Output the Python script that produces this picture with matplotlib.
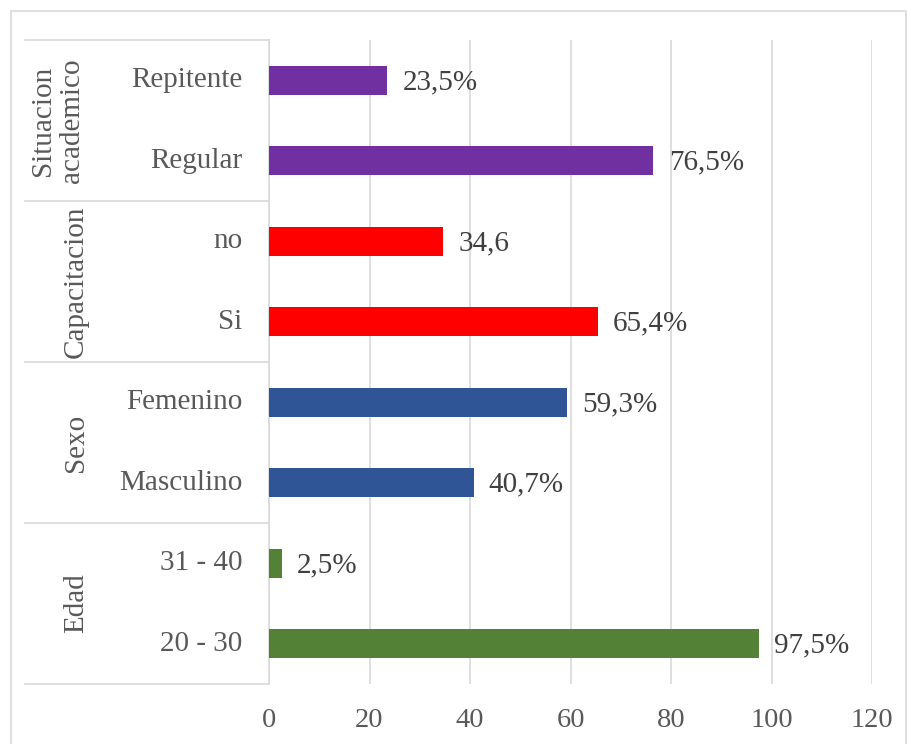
import matplotlib
matplotlib.use("Agg")
import matplotlib.pyplot as plt
from matplotlib.patches import Rectangle
from matplotlib.lines import Line2D
import matplotlib.transforms as mtransforms

# Data (bottom to top)
groups = ["Edad", "Sexo", "Capacitacion", "Situacion\nacademico"]
categories = ["20 - 30", "31 - 40", "Masculino", "Femenino", "Si", "no", "Regular", "Repitente"]
values = [97.5, 2.5, 40.7, 59.3, 65.4, 34.6, 76.5, 23.5]
value_labels = ["97,5%", "2,5%", "40,7%", "59,3%", "65,4%", "34,6", "76,5%", "23,5%"]
group_colors = ["#538135", "#2F5597", "#FF0000", "#7030A0"]
xticks = [0, 20, 40, 60, 80, 100, 120]

W, H = 907, 744
fig = plt.figure(figsize=(W / 100, H / 100), dpi=100)
plt.rcParams['font.family'] = ['Liberation Serif', 'DejaVu Serif']

# outer chart border
fig.patches.append(Rectangle((11 / W, -0.01), (W - 11 - 1) / W, (H - 11) / H + 0.01,
                             transform=fig.transFigure, fill=False, edgecolor="#D9D9D9",
                             linewidth=1.2))

ax = fig.add_axes([269 / W, 1 - 684 / H, (872 - 269) / W, (684 - 40) / H])
n = len(categories)
ypos = list(range(n))
colors = [group_colors[i // 2] for i in range(n)]
ax.barh(ypos, values, height=0.36, color=colors, zorder=3)
ax.set_ylim(-0.5, n - 0.5)
ax.set_xlim(0, 120)
ax.set_xticks(xticks)
ax.set_xticklabels([str(t) for t in xticks], fontsize=20.5, color="#595959")
ax.tick_params(axis="x", length=0, pad=17)
ax.set_yticks([])
ax.grid(axis="x", color="#D9D9D9", linewidth=1.2, zorder=0)
for s in ["top", "right", "bottom"]:
    ax.spines[s].set_visible(False)
ax.spines["left"].set_color("#D9D9D9")
ax.spines["left"].set_linewidth(1.2)

for y, v, lab in zip(ypos, values, value_labels):
    ax.annotate(lab, (v, y), xytext=(11, -1.5), textcoords="offset points",
                va="center", ha="left", fontsize=21, color="#404040")

trans = mtransforms.blended_transform_factory(ax.transAxes, ax.transData)
for y, c in zip(ypos, categories):
    ax.annotate(c, (0, y), xycoords=trans, xytext=(-19, 0), textcoords="offset points",
                va="center", ha="right", fontsize=21, color="#595959", annotation_clip=False)

x_left = (25 - 269) / (872 - 269)
for b in [-0.5, 1.5, 3.5, 5.5, 7.5]:
    ax.add_line(Line2D([x_left, 0], [b, b], transform=trans, color="#D9D9D9",
                       linewidth=1.2, clip_on=False))

gx = [(76 - 269) / (872 - 269)] * 3 + [(57 - 269) / (872 - 269)]
for i, g in enumerate(groups):
    ax.text(gx[i], 2 * i + 0.5, g, transform=trans, rotation=90, va="center", ha="center",
            fontsize=21, color="#595959", linespacing=1.15)

fig.savefig("out.png", dpi=100)
